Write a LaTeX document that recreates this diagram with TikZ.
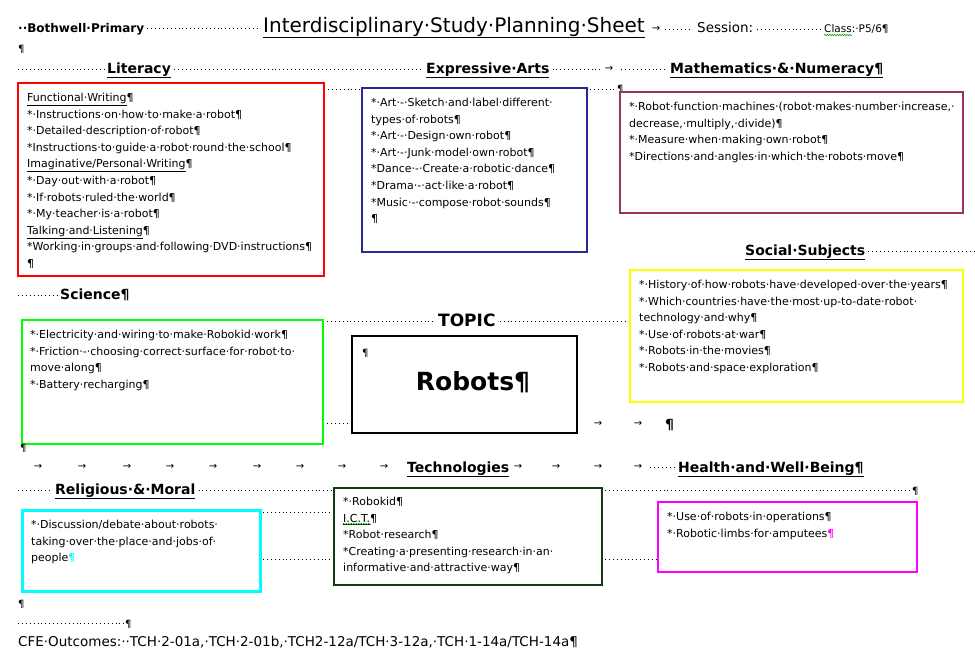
\documentclass[tikz,border=0pt]{standalone}
\usepackage{fontspec}
\setmainfont{DejaVu Sans}
\usepackage{tikz}
\usetikzlibrary{decorations.pathmorphing}
\definecolor{litred}{RGB}{255,0,0}
\definecolor{artnavy}{RGB}{40,40,150}
\definecolor{mathplum}{RGB}{153,51,102}
\definecolor{socyellow}{RGB}{255,255,0}
\definecolor{scigreen}{RGB}{0,255,0}
\definecolor{techgreen}{RGB}{20,60,20}
\definecolor{relcyan}{RGB}{0,255,255}
\definecolor{hwbpink}{RGB}{255,0,255}
\definecolor{spellgreen}{RGB}{0,150,0}

\begin{document}
\begin{tikzpicture}[x=1pt, y=-1pt,
    box/.style={draw, line width=2pt, anchor=north west, inner sep=0pt, outer sep=0pt},
    body/.style={anchor=north west, align=left, inner sep=0pt, font=\fontsize{11}{16.6}\selectfont},
    heading/.style={anchor=base west, inner sep=0pt, font=\fontsize{14}{16}\selectfont\bfseries},
    leader/.style={line width=0.9pt, dash pattern=on 0.9pt off 3pt},
    tab/.style={inner sep=0pt, font=\fontsize{10}{12}\selectfont},
    pilcrow/.style={anchor=base west, inner sep=0pt, font=\fontsize{10}{12}\selectfont},
    wavy/.style={spellgreen, line width=0.5pt, decorate, decoration={snake, amplitude=0.8pt, segment length=2.5pt}}]
    \useasboundingbox (0,0) rectangle (975,659);
    \fill[white] (0,0) rectangle (975,659);

    % header line
    \node[anchor=base west, inner sep=0pt, font=\fontsize{12}{14}\selectfont\bfseries] (school) at (18,32) {··Bothwell·Primary};
    \node[anchor=base west, inner sep=0pt, font=\fontsize{20}{22}\selectfont] (title) at (263,32) {\underline{Interdisciplinary·Study·Planning·Sheet}};
    \node[tab] (titlearrow) at (656,29) {→};
    \node[anchor=base west, inner sep=0pt, font=\fontsize{13.5}{16}\selectfont] (session) at (697,32) {Session:};
    \node[anchor=base west, inner sep=0pt, font=\fontsize{10.5}{12}\selectfont] (classlbl) at (824,32) {Class:·P5/6¶};
    \draw[wavy] ([yshift=-3]classlbl.base west) -- ++(28,0);
    \draw[leader] ([xshift=3]school.east) -- ([xshift=-4]title.west |- school.east);
    \draw[leader] ([xshift=5]titlearrow.east) -- ([xshift=-6]session.west |- titlearrow.east);
    \draw[leader] ([xshift=4]session.east |- titlearrow.east) -- ([xshift=-4]classlbl.west |- titlearrow.east);
    \node[pilcrow] (pil1) at (18,52) {¶};

    % subject headings
    \node[heading] (literacy) at (107,73) {\underline{Literacy}};
    \node[heading] (arts) at (426,73) {\underline{Expressive·Arts}};
    \node[tab] (artsarrow) at (609,69) {→};
    \node[heading] (maths) at (670,73) {\underline{Mathematics·\&·Numeracy¶}};
    \draw[leader] (18,69) -- ([xshift=-3]literacy.west |- 0,69);
    \draw[leader] ([xshift=3]literacy.east |- 0,69) -- ([xshift=-3]arts.west |- 0,69);
    \draw[leader] ([xshift=3]arts.east |- 0,69) -- ([xshift=-5]artsarrow.west);
    \draw[leader] ([xshift=8]artsarrow.east) -- ([xshift=-3]maths.west |- 0,69);

    % Literacy
    \node[box, draw=litred, minimum width=306pt, minimum height=193pt] (litbox) at (18,83) {};
    \node[body] (littext) at ([shift={(9,10)}]litbox.north west) {\underline{Functional·Writing}¶\\
        *·Instructions·on·how·to·make·a·robot¶\\
        *·Detailed·description·of·robot¶\\
        *Instructions·to·guide·a·robot·round·the·school¶\\
        \underline{Imaginative/Personal·Writing}¶\\
        *·Day·out·with·a·robot¶\\
        *·If·robots·ruled·the·world¶\\
        *·My·teacher·is·a·robot¶\\
        \underline{Talking·and·Listening}¶\\
        *Working·in·groups·and·following·DVD·instructions¶\\
        ¶};

    % Expressive Arts
    \node[box, draw=artnavy, minimum width=225pt, minimum height=164pt] (artbox) at (362,88) {};
    \node[body] (arttext) at ([shift={(9,10)}]artbox.north west) {*·Art·-·Sketch·and·label·different·\\
        types·of·robots¶\\
        *·Art·-·Design·own·robot¶\\
        *·Art·-·Junk·model·own·robot¶\\
        *Dance·-·Create·a·robotic·dance¶\\
        *Drama·-·act·like·a·robot¶\\
        *Music·-·compose·robot·sounds¶\\
        ¶};
    \draw[leader] ([xshift=4]litbox.east |- 0,89) -- ([xshift=-2]artbox.west |- 0,89);
    \node[pilcrow] (pil2) at (617,92) {¶};
    \draw[leader] ([xshift=3]artbox.east |- 0,89) -- ([xshift=-1]pil2.west |- 0,89);

    % Mathematics and Numeracy
    \node[box, draw=mathplum, minimum width=343pt, minimum height=121pt] (mathbox) at (620,92) {};
    \node[body] (mathtext) at ([shift={(9,10)}]mathbox.north west) {*·Robot·function·machines·(robot·makes·number·increase,·\\
        decrease,·multiply,·divide)¶\\
        *·Measure·when·making·own·robot¶\\
        *Directions·and·angles·in·which·the·robots·move¶};

    % Social Subjects
    \node[heading] (social) at (745,255) {\underline{Social·Subjects}};
    \draw[leader] ([xshift=3]social.east |- 0,251) -- (975,251);
    \node[box, draw=socyellow, minimum width=333pt, minimum height=132pt] (socbox) at (630,270) {};
    \node[body] (soctext) at ([shift={(9,10)}]socbox.north west) {*·History·of·how·robots·have·developed·over·the·years¶\\
        *·Which·countries·have·the·most·up-to-date·robot·\\
        technology·and·why¶\\
        *·Use·of·robots·at·war¶\\
        *·Robots·in·the·movies¶\\
        *·Robots·and·space·exploration¶};

    % Science
    \node[heading] (science) at (60,299) {Science¶};
    \draw[leader] (18,295) -- ([xshift=-2]science.west |- 0,295);
    \node[box, draw=scigreen, minimum width=301pt, minimum height=124pt] (scibox) at (22,320) {};
    \node[body] (scitext) at ([shift={(8,10)}]scibox.north west) {*·Electricity·and·wiring·to·make·Robokid·work¶\\
        *·Friction·-·choosing·correct·surface·for·robot·to·\\
        move·along¶\\
        *·Battery·recharging¶};
    \node[pilcrow] (pil3) at (20,451) {¶};

    % TOPIC
    \node[anchor=base west, inner sep=0pt, font=\fontsize{17}{20}\selectfont\bfseries] (topic) at (438,326) {TOPIC};
    \draw[leader] ([xshift=4]scibox.east |- 0,321) -- ([xshift=-3]topic.west |- 0,321);
    \draw[leader] ([xshift=4]topic.east |- 0,321) -- ([xshift=-2]socbox.west |- 0,321);
    \node[box, draw=black, minimum width=225pt, minimum height=97pt] (topicbox) at (352,336) {};
    \node[pilcrow] (pil4) at ([shift={(10,20)}]topicbox.north west) {¶};
    \node[anchor=base, inner sep=0pt, font=\fontsize{25}{28}\selectfont\bfseries] (robots) at (473,390) {Robots¶};
    \draw[leader] ([xshift=4]scibox.east |- 0,423) -- ([xshift=-2]topicbox.west |- 0,423);
    \node[tab] (toparrow1) at (598,424) {→};
    \node[tab] (toparrow2) at (638,424) {→};
    \node[pilcrow, font=\fontsize{14}{16}\selectfont\bfseries] (pil5) at (665,429) {¶};

    % tab row with Technologies and Health
    \foreach \x [count=\i] in {38,82,127,170,213,257,300,342,384,518,556,598,638}
        \node[tab] (tabrow\i) at (\x,467) {→};
    \node[heading] (tech) at (407,472) {\underline{Technologies}};
    \node[heading] (health) at (678,472) {\underline{Health·and·Well·Being¶}};
    \draw[leader] ([xshift=8]tabrow13.east) -- ([xshift=-2]health.west |- tabrow13.east);

    % Religious and Moral
    \node[heading] (religious) at (55,494) {\underline{Religious·\&·Moral}};
    \draw[leader] (18,490) -- ([xshift=-3]religious.west |- 0,490);

    % Technologies box
    \node[box, draw=techgreen, minimum width=268pt, minimum height=97pt] (techbox) at (334,488) {};
    \draw[leader] ([xshift=3]religious.east |- 0,490) -- ([xshift=-1]techbox.west |- 0,490);
    \node[body] (techtext) at ([shift={(9,9)}]techbox.north west) {*·Robokid¶\\
        \underline{I.C.T.}¶\\
        *Robot·research¶\\
        *Creating·a·presenting·research·in·an·\\
        informative·and·attractive·way¶};
    \draw[wavy] ([shift={(0,27)}]techtext.north west) -- ++(28,0);

    % Religious box
    \node[box, draw=relcyan, line width=3pt, minimum width=238pt, minimum height=81pt] (relbox) at (22,510) {};
    \node[body] (reltext) at ([shift={(9,10)}]relbox.north west) {*·Discussion/debate·about·robots·\\
        taking·over·the·place·and·jobs·of·\\
        people\textcolor{relcyan}{¶}};
    \draw[leader] ([xshift=3]relbox.east |- 0,512) -- ([xshift=-1]techbox.west |- 0,512);
    \draw[leader] ([xshift=3]relbox.east |- 0,559) -- ([xshift=-1]techbox.west |- 0,559);

    % Health and Well Being box
    \node[pilcrow] (pil6) at (912,494) {¶};
    \draw[leader] ([xshift=3]techbox.east |- 0,490) -- ([xshift=-2]pil6.west |- 0,490);
    \node[box, draw=hwbpink, minimum width=259pt, minimum height=70pt] (hwbbox) at (658,502) {};
    \node[body] (hwbtext) at ([shift={(9,10)}]hwbbox.north west) {*·Use·of·robots·in·operations¶\\
        *·Robotic·limbs·for·amputees\textcolor{hwbpink}{¶}};
    \draw[leader] ([xshift=3]techbox.east |- 0,559) -- ([xshift=-2]hwbbox.west |- 0,559);

    % footer
    \node[pilcrow] (pil7) at (18,607) {¶};
    \node[pilcrow] (pil8) at (125,627) {¶};
    \draw[leader] (18,623) -- ([xshift=-1]pil8.west |- 0,623);
    \node[anchor=base west, inner sep=0pt, font=\fontsize{13.5}{16}\selectfont] (cfe) at (18,646) {CFE·Outcomes:··TCH·2-01a,·TCH·2-01b,·TCH2-12a/TCH·3-12a,·TCH·1-14a/TCH-14a¶};
\end{tikzpicture}
\end{document}
